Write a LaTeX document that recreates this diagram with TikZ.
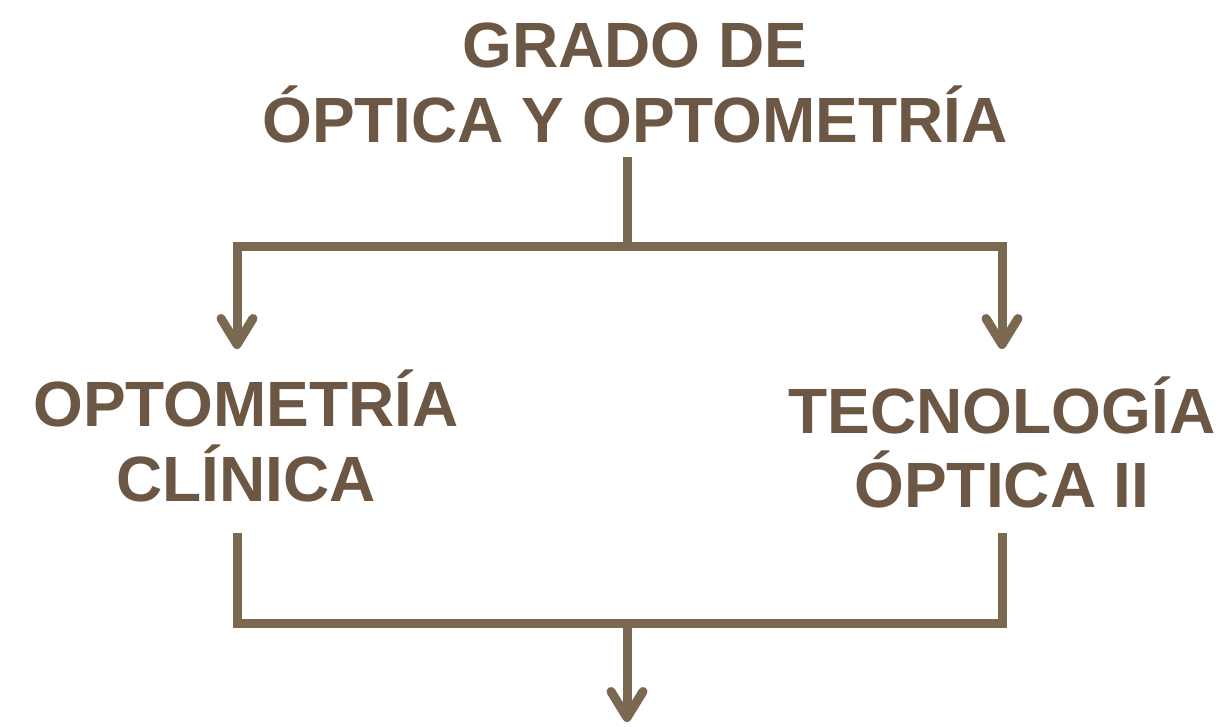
\documentclass[tikz,border=0pt]{standalone}
\usepackage{fontspec}
\setmainfont{Liberation Sans}
\usetikzlibrary{arrows.meta}
\definecolor{textbrown}{RGB}{107,87,68}
\definecolor{linebrown}{RGB}{122,104,80}
\tikzset{
  lbl/.style={text=textbrown, align=center, inner sep=0pt, anchor=base},
  conn/.style={draw=linebrown, line width=9pt},
  barb/.tip={Straight Barb[length=26pt,width=32pt,round]},
}
\begin{document}
\begin{tikzpicture}[x=1pt,y=-1pt]
\useasboundingbox (0,0) rectangle (1221,726);
\node[lbl, font=\bfseries\fontsize{64}{75}\selectfont] (title) at (635,142) {GRADO DE\\ÓPTICA Y OPTOMETRÍA};
\node[lbl, font=\bfseries\fontsize{64}{75}\selectfont] (left) at (246,501) {OPTOMETRÍA\\CLÍNICA};
\node[lbl, font=\bfseries\fontsize{64}{74}\selectfont] (right) at (1002,507) {TECNOLOGÍA\\ÓPTICA II};
\coordinate (tstem) at (627,157);
\coordinate (split) at (627,246);
\coordinate (ltip) at (237,349);
\coordinate (rtip) at (1002,349);
\coordinate (lbot) at (237,533);
\coordinate (rbot) at (1002,533);
\coordinate (join) at (627,623);
\coordinate (btip) at (627,722);
\draw[conn] (tstem) -- (split);
\draw[conn, barb-barb] (ltip) |- (split) -| (rtip);
\draw[conn] (lbot) |- (join) -| (rbot);
\draw[conn, -barb] (join) -- (btip);
\end{tikzpicture}
\end{document}
